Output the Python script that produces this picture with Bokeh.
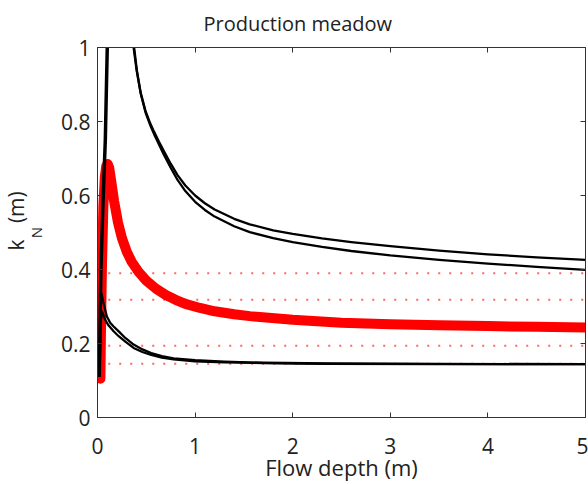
from bokeh.plotting import figure
from bokeh.models import Range1d, FixedTicker, LinearAxis, Title
from bokeh.embed import file_html
from bokeh.resources import INLINE

# ---- data ----
red_x = [0.03, 0.035, 0.045, 0.06, 0.075, 0.09, 0.105, 0.12, 0.14, 0.17, 0.21, 0.25, 0.30,
         0.35, 0.42, 0.5, 0.6, 0.7, 0.8, 0.9, 1.05, 1.2, 1.4, 1.56, 2.0, 2.5, 3.0, 3.5, 4.0,
         4.5, 5.0]
red_y = [0.105, 0.22, 0.40, 0.57, 0.65, 0.68, 0.685, 0.675, 0.64, 0.585, 0.527, 0.485, 0.448,
         0.421, 0.394, 0.37, 0.348, 0.331, 0.318, 0.307, 0.296, 0.287, 0.279, 0.274, 0.264,
         0.256, 0.252, 0.249, 0.247, 0.245, 0.243]

upA_x = [0.37, 0.40, 0.44, 0.49, 0.54, 0.58, 0.63, 0.68, 0.75, 0.82, 0.9, 1.0, 1.1, 1.2, 1.4,
         1.56, 1.8, 2.0, 2.3, 2.6, 3.0, 3.5, 4.0, 4.5, 5.0]
upA_y = [1.0, 0.94, 0.88, 0.83, 0.795, 0.772, 0.745, 0.72, 0.686, 0.655, 0.627, 0.6, 0.579,
         0.562, 0.537, 0.522, 0.506, 0.496, 0.484, 0.474, 0.463, 0.451, 0.441, 0.433, 0.426]
upB_x = [0.375, 0.405, 0.445, 0.495, 0.545, 0.585, 0.635, 0.68, 0.75, 0.82, 0.9, 1.0, 1.1, 1.2,
         1.4, 1.56, 1.8, 2.0, 2.3, 2.6, 3.0, 3.5, 4.0, 4.5, 5.0]
upB_y = [1.0, 0.935, 0.873, 0.822, 0.787, 0.763, 0.735, 0.71, 0.675, 0.642, 0.612, 0.583,
         0.561, 0.543, 0.517, 0.501, 0.485, 0.474, 0.461, 0.45, 0.438, 0.426, 0.416, 0.407,
         0.399]

vert_x = [0.018, 0.034, 0.055, 0.08, 0.10]
vert_y = [0.11, 0.39, 0.57, 0.75, 1.0]

lowC_x = [0.02, 0.028, 0.034, 0.045, 0.062, 0.096, 0.13, 0.165, 0.22, 0.285, 0.37, 0.46, 0.55,
          0.66, 0.78, 1.0, 1.3, 1.7, 2.35, 3.5, 5.0]
lowC_y = [0.11, 0.26, 0.34, 0.33, 0.309, 0.273, 0.256, 0.246, 0.232, 0.215, 0.197, 0.184,
          0.174, 0.166, 0.16, 0.155, 0.151, 0.148, 0.146, 0.145, 0.144]
lowD_x = [0.02, 0.035, 0.045, 0.06, 0.079, 0.11, 0.165, 0.22, 0.285, 0.37, 0.46, 0.55, 0.66,
          0.78, 1.0, 1.3, 1.7, 2.35, 3.5, 5.0]
lowD_y = [0.11, 0.26, 0.287, 0.277, 0.264, 0.25, 0.233, 0.219, 0.205, 0.188, 0.177, 0.169,
          0.162, 0.157, 0.152, 0.149, 0.147, 0.145, 0.144, 0.144]

dot_levels = [0.39, 0.318, 0.194, 0.145]
dot_x_start = 0.11
dot_x_end = 5.0

x_ticks = [0, 1, 2, 3, 4, 5]
y_ticks = [0, 0.2, 0.4, 0.6, 0.8, 1]
y_tick_labels = ["0", "0.2", "0.4", "0.6", "0.8", "1"]

FONT = "Open Sans"
AX = "#333333"
TXT = "#222222"
NB = "\u00a0"

p = figure(width=588, height=484, output_backend="svg", toolbar_location=None,
           x_range=Range1d(0, 5), y_range=Range1d(0, 1),
           min_border_left=97, min_border_right=3, min_border_top=47, min_border_bottom=66)
p.xgrid.grid_line_color = None
p.ygrid.grid_line_color = None
p.outline_line_color = AX
p.background_fill_color = "white"
p.border_fill_color = "white"

# title
p.title.text = "Production meadow"
p.title.text_font = FONT
p.title.text_font_size = "20px"
p.title.text_font_style = "normal"
p.title.text_color = TXT
p.title.align = "left"
p.title.offset = 106
p.title.vertical_align = "top"
p.title.standoff = 17

def style(ax, labels=True):
    ax.major_tick_in = 5
    ax.major_tick_out = 0
    ax.minor_tick_line_color = None
    ax.axis_line_color = AX
    ax.major_tick_line_color = AX
    ax.major_label_text_font = FONT
    ax.major_label_text_color = TXT
    ax.axis_label_text_font = FONT
    ax.axis_label_text_font_style = "normal"
    ax.axis_label_text_color = TXT
    if labels:
        ax.major_label_text_font_size = "21px"
    else:
        ax.major_label_text_font_size = "1px"
        ax.major_label_standoff = 0

xa = p.xaxis[0]
xa.ticker = FixedTicker(ticks=x_ticks)
style(xa)
xa.major_label_standoff = 20
xa.axis_label = "Flow depth (m)"
xa.axis_label_text_font_size = "22px"
xa.axis_label_standoff = -5

ya = p.yaxis[0]
ya.ticker = FixedTicker(ticks=y_ticks)
ya.major_label_overrides = {t: l for t, l in zip(y_ticks, y_tick_labels)}
style(ya)
ya.major_label_standoff = 7
# subscript of k_N (centred on the axis)
ya.axis_label = "N"
ya.axis_label_text_font_size = "15px"
ya.axis_label_standoff = 12

# "k   (m)" of the y label, placed beside the subscript
p.add_layout(Title(text="k" + NB * 3 + "(m)", text_font=FONT, text_font_size="21px",
                   text_font_style="normal", text_color=TXT, align="left", offset=167,
                   vertical_align="bottom", standoff=-15), "left")

top = LinearAxis(ticker=FixedTicker(ticks=x_ticks),
                 major_label_overrides={t: "" for t in x_ticks})
style(top, labels=False)
p.add_layout(top, "above")
right = LinearAxis(ticker=FixedTicker(ticks=y_ticks),
                   major_label_overrides={t: "" for t in y_ticks})
style(right, labels=False)
p.add_layout(right, "right")

# dotted reference levels
p.segment(x0=[dot_x_start] * len(dot_levels), x1=[dot_x_end] * len(dot_levels),
          y0=dot_levels, y1=dot_levels, line_color="red", line_alpha=0.6,
          line_width=2, line_dash="2 9")

p.line(red_x, red_y, line_color="red", line_width=10, line_join="round", line_cap="round")

for xs, ys in [(upA_x, upA_y), (upB_x, upB_y), (lowC_x, lowC_y), (lowD_x, lowD_y)]:
    p.line(xs, ys, line_color="black", line_width=2.3, line_join="round")
p.line(vert_x, vert_y, line_color="black", line_width=3.5, line_join="round")

open("out.html", "w").write(file_html(p, INLINE))
